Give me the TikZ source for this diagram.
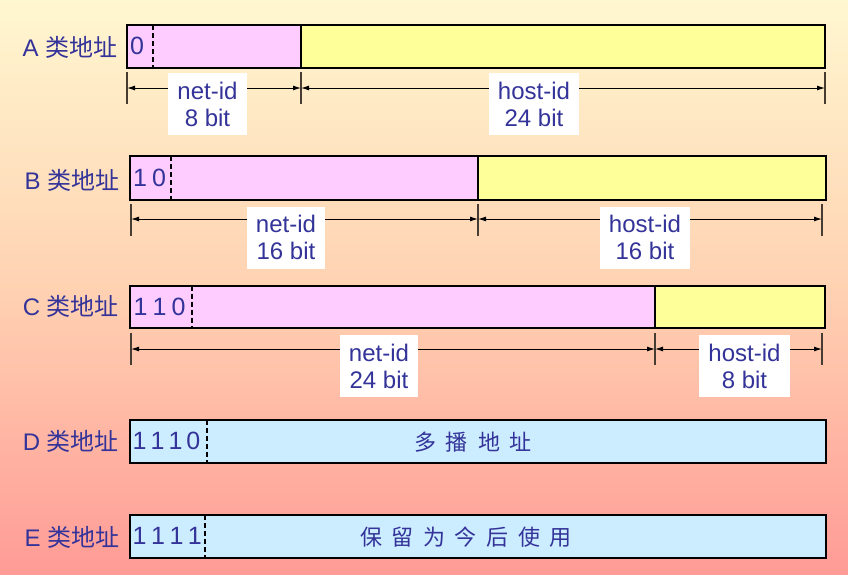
\documentclass[tikz,border=0pt]{standalone}
\usepackage{fontspec}
\setmainfont{Liberation Sans}
\newfontfamily\cjk{Noto Sans CJK SC}
\usetikzlibrary{arrows.meta}
\definecolor{txt}{RGB}{51,51,153}
\definecolor{pinkf}{RGB}{255,204,255}
\definecolor{yelf}{RGB}{255,255,153}
\definecolor{bluef}{RGB}{204,236,255}
\definecolor{bgtop}{RGB}{255,247,208}
\definecolor{bgmid}{RGB}{255,210,178}
\definecolor{bgbot}{RGB}{255,155,150}
\definecolor{tickc}{RGB}{70,60,50}
\begin{document}
\begin{tikzpicture}[x=1pt,y=-1pt,
  rowlabel/.style={text=txt,font=\fontsize{24}{28}\selectfont,inner sep=0pt},
  bits/.style={text=txt,font=\fontsize{25}{28}\selectfont,inner sep=0pt,anchor=west},
  outerbox/.style={draw=black,line width=2.6pt},
  divline/.style={draw=black,line width=1.4pt},
  dashline/.style={draw=black,line width=1.7pt,dash pattern=on 5pt off 3pt},
  tickline/.style={draw=tickc,line width=1.5pt},
  dimline/.style={draw=black,line width=1pt,{Latex[length=8pt,width=5pt]}-{Latex[length=8pt,width=5pt]}},
  dimlabel/.style={fill=white,text=txt,font=\fontsize{24}{27}\selectfont,align=center,inner xsep=9pt,inner ysep=4pt,minimum height=62pt},
  cjktext/.style={text=txt,font=\fontsize{22}{26}\selectfont\cjk,inner sep=0pt}
]
\useasboundingbox (0,0) rectangle (848,574);
\shade[top color=bgtop,bottom color=bgbot,middle color=bgmid] (0,0) rectangle (848,574);

% ---------- A ----------
\node[rowlabel] (la) at (70,47) {A {\cjk 类地址}};
\fill[pinkf] (127,25) rectangle (301,68);
\fill[yelf] (301,25) rectangle (825,68);
\coordinate (a1t) at (301,25); \coordinate (a1b) at (301,68);
\draw[divline] (a1t) -- (a1b);
\coordinate (adt) at (153,25); \coordinate (adb) at (153,68);
\draw[dashline] (adt) -- (adb);
\draw[outerbox] (127,25) rectangle (825,68);
\node[bits] (ba) at (130,46) {0};
\coordinate (at0) at (127,72); \coordinate (ab0) at (127,104);
\coordinate (at1) at (301,72); \coordinate (ab1) at (301,104);
\coordinate (at2) at (825,72); \coordinate (ab2) at (825,104);
\draw[tickline] (at0) -- (ab0);
\draw[tickline] (at1) -- (ab1);
\draw[tickline] (at2) -- (ab2);
\coordinate (am0) at (127,88); \coordinate (am1) at (301,88); \coordinate (am2) at (825,88);
\draw[dimline] (am0) -- (am1);
\draw[dimline] (am1) -- (am2);
\node[dimlabel] (an) at (207.5,104) {net-id\\8 bit};
\node[dimlabel] (ah) at (534,104) {host-id\\24 bit};

% ---------- B ----------
\node[rowlabel] (lb) at (72,180) {B {\cjk 类地址}};
\fill[pinkf] (130,156) rectangle (478,200);
\fill[yelf] (478,156) rectangle (826,200);
\coordinate (b1t) at (478,156); \coordinate (b1b) at (478,200);
\draw[divline] (b1t) -- (b1b);
\coordinate (bdt) at (171,156); \coordinate (bdb) at (171,200);
\draw[dashline] (bdt) -- (bdb);
\draw[outerbox] (130,156) rectangle (826,200);
\node[bits] (bb) at (133,178) {1\hspace{5pt}0};
\coordinate (bt0) at (131,204); \coordinate (bb0) at (131,236);
\coordinate (bt1) at (478,204); \coordinate (bb1) at (478,236);
\coordinate (bt2) at (822,204); \coordinate (bb2) at (822,236);
\draw[tickline] (bt0) -- (bb0);
\draw[tickline] (bt1) -- (bb1);
\draw[tickline] (bt2) -- (bb2);
\coordinate (bm0) at (131,219); \coordinate (bm1) at (478,219); \coordinate (bm2) at (822,219);
\draw[dimline] (bm0) -- (bm1);
\draw[dimline] (bm1) -- (bm2);
\node[dimlabel] (bn) at (286,237.5) {net-id\\16 bit};
\node[dimlabel] (bh) at (645,237.5) {host-id\\16 bit};

% ---------- C ----------
\node[rowlabel] (lc) at (71,306) {C {\cjk 类地址}};
\fill[pinkf] (130,286) rectangle (655,328);
\fill[yelf] (655,286) rectangle (825,328);
\coordinate (c1t) at (655,286); \coordinate (c1b) at (655,328);
\draw[divline] (c1t) -- (c1b);
\coordinate (cdt) at (192,286); \coordinate (cdb) at (192,328);
\draw[dashline] (cdt) -- (cdb);
\draw[outerbox] (130,286) rectangle (825,328);
\node[bits] (bc) at (133.5,307) {1\hspace{5pt}1\hspace{5pt}0};
\coordinate (ct0) at (131,333); \coordinate (cb0) at (131,365);
\coordinate (ct1) at (655,333); \coordinate (cb1) at (655,365);
\coordinate (ct2) at (822,333); \coordinate (cb2) at (822,365);
\draw[tickline] (ct0) -- (cb0);
\draw[tickline] (ct1) -- (cb1);
\draw[tickline] (ct2) -- (cb2);
\coordinate (cm0) at (131,349); \coordinate (cm1) at (655,349); \coordinate (cm2) at (822,349);
\draw[dimline] (cm0) -- (cm1);
\draw[dimline] (cm1) -- (cm2);
\node[dimlabel] (cn) at (379,366) {net-id\\24 bit};
\node[dimlabel] (ch) at (744.5,366) {host-id\\8 bit};

% ---------- D ----------
\node[rowlabel] (ld) at (71,441) {D {\cjk 类地址}};
\fill[bluef] (130,420) rectangle (826,463);
\coordinate (ddt) at (207,420); \coordinate (ddb) at (207,463);
\draw[dashline] (ddt) -- (ddb);
\draw[outerbox] (130,420) rectangle (826,463);
\node[bits] (bd) at (132.5,441) {1\hspace{4pt}1\hspace{4pt}1\hspace{4pt}0};
\node[cjktext] (td) at (473,442) {多\hspace{10pt}播\hspace{10pt}地\hspace{10pt}址};

% ---------- E ----------
\node[rowlabel] (le) at (72,537) {E {\cjk 类地址}};
\fill[bluef] (130,515) rectangle (826,558);
\coordinate (edt) at (205,515); \coordinate (edb) at (205,558);
\draw[dashline] (edt) -- (edb);
\draw[outerbox] (130,515) rectangle (826,558);
\node[bits] (be) at (132.5,536) {1\hspace{4.5pt}1\hspace{4.5pt}1\hspace{4.5pt}1};
\node[cjktext] (te) at (466,537) {保\hspace{9.5pt}留\hspace{9.5pt}为\hspace{9.5pt}今\hspace{9.5pt}后\hspace{9.5pt}使\hspace{9.5pt}用};
\end{tikzpicture}
\end{document}
